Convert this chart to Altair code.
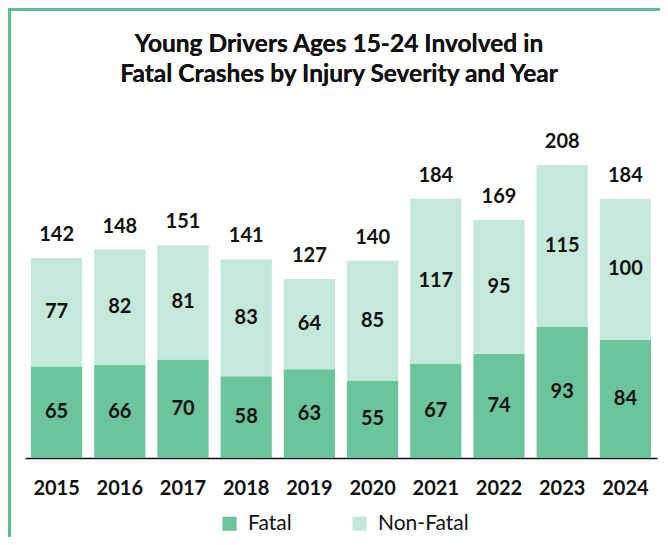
import altair as alt
import pandas as pd

years = ["2015", "2016", "2017", "2018", "2019", "2020", "2021", "2022", "2023", "2024"]
fatal = [65, 66, 70, 58, 63, 55, 67, 74, 93, 84]
non_fatal = [77, 82, 81, 83, 64, 85, 117, 95, 115, 100]
totals = [142, 148, 151, 141, 127, 140, 184, 169, 208, 184]
series = ["Fatal", "Non-Fatal"]
colors = ["#6CC49C", "#C4E8D9"]
title_lines = ["Young Drivers Ages 15-24 Involved in", "Fatal Crashes by Injury Severity and Year"]

rows = []
for i, yr in enumerate(years):
    lo = 0
    for k, (s, vals) in enumerate(zip(series, [fatal, non_fatal])):
        v = vals[i]
        rows.append({"year": yr, "series": s, "value": v, "order": k,
                     "lo": lo, "hi": lo + v, "mid": lo + v / 2})
        lo += v
df = pd.DataFrame(rows)
tot = pd.DataFrame({"year": years, "total": totals})

FONT = "Lato"
xenc = alt.X("year:N", sort=years,
             scale=alt.Scale(paddingInner=0.19, paddingOuter=0.095),
             axis=alt.Axis(title=None, labelAngle=0, ticks=False, labelFontSize=20,
                           labelFontWeight="bold", labelFont=FONT, labelColor="#111111",
                           labelPadding=20, domainColor="#111111", domainWidth=1.5))
yscale = alt.Scale(domain=[0, 208], nice=False)

bars = alt.Chart(df).mark_bar().encode(
    x=xenc,
    y=alt.Y("lo:Q", scale=yscale, axis=None),
    y2="hi:Q",
    color=alt.Color("series:N", scale=alt.Scale(domain=series, range=colors),
                    legend=alt.Legend(title=None, orient="none", direction="horizontal",
                                      legendX=194, legendY=348, symbolType="square",
                                      symbolSize=200, symbolStrokeWidth=0,
                                      labelFontSize=21, labelFont=FONT, labelColor="#111111",
                                      labelOffset=8, columnPadding=57)),
)

seg = alt.Chart(df).mark_text(fontSize=20, fontWeight="bold", font=FONT,
                               color="#111111", baseline="middle").encode(
    x=alt.X("year:N", sort=years),
    y=alt.Y("mid:Q", scale=yscale),
    text="value:Q",
)

totl = alt.Chart(tot).mark_text(fontSize=20, fontWeight="bold", font=FONT,
                                 color="#111111", baseline="middle", dy=-23).encode(
    x=alt.X("year:N", sort=years),
    y=alt.Y("total:Q", scale=yscale),
    text="total:Q",
)

title_df = pd.DataFrame({"line": title_lines})
title1 = alt.Chart(title_df).mark_text(fontSize=24.5, fontWeight="bold", font=FONT,
                                        color="#111111", baseline="middle", align="center").encode(
    x=alt.value(314), y=alt.value(-120), text=alt.value(title_lines[0]))
title2 = alt.Chart(title_df).mark_text(fontSize=24.5, fontWeight="bold", font=FONT,
                                        color="#111111", baseline="middle", align="center").encode(
    x=alt.value(314), y=alt.value(-90), text=alt.value(title_lines[1]))

border_color = "#5DBE93"
top_line = alt.Chart(tot).mark_rule(color=border_color, strokeWidth=3).encode(
    x=alt.value(-17), x2=alt.value(640), y=alt.value(-155.5))
left_line = alt.Chart(tot).mark_rule(color=border_color, strokeWidth=3).encode(
    x=alt.value(-15.5), y=alt.value(-157), y2=alt.value(400))

chart = alt.layer(bars, seg, totl, title1, title2, top_line, left_line).properties(
    width=632, height=293,
    autosize=alt.AutoSizeParams(type="none"),
    padding={"left": 17, "top": 157, "right": 3, "bottom": 79},
).configure_view(stroke=None)

chart.save("out.html", embed_options={"renderer": "svg", "actions": False})
